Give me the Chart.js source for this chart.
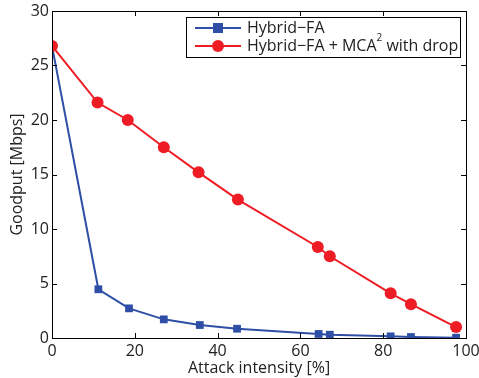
<!DOCTYPE html>
<html>
<head>
<meta charset="utf-8">
<script src="https://cdn.jsdelivr.net/npm/chart.js@4"></script>
<style>
  html, body { margin: 0; padding: 0; background: #fff; }
  #wrap { width: 479px; height: 378px; }
</style>
</head>
<body>
<div id="wrap"><canvas id="goodput-chart"></canvas></div>
<script>
// values
const hybridX = [0, 11.2, 18.6, 27.0, 35.7, 44.7, 64.4, 67.1, 81.8, 86.7, 97.6];
const hybridY = [26.8, 4.47, 2.72, 1.71, 1.19, 0.85, 0.37, 0.30, 0.15, 0.09, 0.03];
const mcaX = [0, 11.0, 18.3, 27.0, 35.4, 44.9, 64.2, 67.1, 81.8, 86.7, 97.6];
const mcaY = [26.8, 21.6, 20.0, 17.5, 15.2, 12.7, 8.35, 7.5, 4.1, 3.1, 1.0];
const xTicks = [0, 20, 40, 60, 80, 100];
const yTicks = [0, 5, 10, 15, 20, 25, 30];

const BLUE = '#2f4fa6';
const RED = '#ee1c25';
const FONT = '"Open Sans", "Liberation Sans", sans-serif';

const toPoints = (xs, ys) => xs.map((x, i) => ({ x: x, y: ys[i] }));

// box around the axes with inward ticks, MATLAB style
const framePlugin = {
    id: 'frame',
    afterDatasetsDraw(chart) {
        const { ctx, chartArea: a, scales } = chart;
        const len = 5;
        ctx.save();
        ctx.strokeStyle = '#000';
        ctx.lineWidth = 1;
        ctx.beginPath();
        xTicks.forEach(v => {
            const px = Math.round(scales.x.getPixelForValue(v)) + 0.5;
            ctx.moveTo(px, a.bottom); ctx.lineTo(px, a.bottom - len);
            ctx.moveTo(px, a.top); ctx.lineTo(px, a.top + len);
        });
        yTicks.forEach(v => {
            const py = Math.round(scales.y.getPixelForValue(v)) + 0.5;
            ctx.moveTo(a.left, py); ctx.lineTo(a.left + len, py);
            ctx.moveTo(a.right, py); ctx.lineTo(a.right - len, py);
        });
        ctx.stroke();
        ctx.strokeRect(Math.round(a.left) + 0.5, Math.round(a.top) + 0.5,
            Math.round(a.right - a.left), Math.round(a.bottom - a.top));
        ctx.restore();
    }
};

// legend box drawn by hand so the superscript 2 can be kept
const legendPlugin = {
    id: 'legendBox',
    afterDraw(chart) {
        const { ctx } = chart;
        const box = { x: 186.5, y: 17.5, w: 274, h: 40 };
        ctx.save();
        ctx.fillStyle = '#fff';
        ctx.fillRect(box.x, box.y, box.w, box.h);
        ctx.strokeStyle = '#000';
        ctx.lineWidth = 1;
        ctx.strokeRect(box.x, box.y, box.w, box.h);

        const rows = [
            { color: BLUE, marker: 'square', y: 28 },
            { color: RED, marker: 'circle', y: 46 }
        ];
        rows.forEach(r => {
            ctx.strokeStyle = r.color;
            ctx.lineWidth = 2;
            ctx.beginPath();
            ctx.moveTo(195, r.y); ctx.lineTo(241, r.y);
            ctx.stroke();
            ctx.fillStyle = r.color;
            if (r.marker === 'square') {
                ctx.fillRect(218 - 5, r.y - 5, 10, 10);
            } else {
                ctx.beginPath();
                ctx.arc(218, r.y, 6, 0, Math.PI * 2);
                ctx.fill();
            }
        });

        ctx.fillStyle = '#222';
        ctx.textBaseline = 'middle';
        ctx.font = '16px ' + FONT;
        ctx.fillText('Hybrid\u2212FA', 247, 28);
        const first = 'Hybrid\u2212FA + MCA';
        ctx.fillText(first, 247, 46);
        let x = 247 + ctx.measureText(first).width;
        ctx.font = '10px ' + FONT;
        ctx.fillText('2', x, 38);
        x += ctx.measureText('2').width;
        ctx.font = '16px ' + FONT;
        ctx.fillText(' with drop', x, 46);
        ctx.restore();
    }
};

const ctx = document.getElementById('goodput-chart');
new Chart(ctx, {
    type: 'line',
    data: {
        datasets: [{
            label: 'Hybrid\u2212FA + MCA\u00b2 with drop',
            data: toPoints(mcaX, mcaY),
            borderColor: RED,
            backgroundColor: RED,
            borderWidth: 2,
            pointStyle: 'circle',
            pointRadius: 6,
            pointBorderWidth: 0,
            order: 0
        }, {
            label: 'Hybrid\u2212FA',
            data: toPoints(hybridX, hybridY),
            borderColor: BLUE,
            backgroundColor: BLUE,
            borderWidth: 2,
            pointStyle: 'rect',
            pointRadius: 5.5,
            pointBorderWidth: 0,
            order: 1
        }]
    },
    options: {
        responsive: true,
        maintainAspectRatio: false,
        animation: false,
        devicePixelRatio: 1,
        layout: { padding: { top: 11, right: 13, left: 0, bottom: 0 } },
        plugins: {
            legend: { display: false },
            tooltip: { enabled: false }
        },
        scales: {
            x: {
                type: 'linear',
                min: 0,
                max: 100,
                afterBuildTicks: s => { s.ticks = xTicks.map(v => ({ value: v })); },
                afterFit: s => { s.height = 40; s.paddingLeft = 0; s.paddingRight = 0; },
                grid: { display: false, drawTicks: false },
                border: { display: false },
                ticks: {
                    color: '#222',
                    padding: 4,
                    maxRotation: 0,
                    font: { family: FONT, size: 16 }
                },
                title: {
                    display: true,
                    text: 'Attack intensity [%]',
                    color: '#222',
                    padding: { top: 0, bottom: 0 },
                    font: { family: FONT, size: 16 }
                }
            },
            y: {
                min: 0,
                max: 30,
                afterBuildTicks: s => { s.ticks = yTicks.map(v => ({ value: v })); },
                afterFit: s => { s.width = 52; s.paddingTop = 0; s.paddingBottom = 0; },
                grid: { display: false, drawTicks: false },
                border: { display: false },
                ticks: {
                    color: '#222',
                    padding: 3,
                    font: { family: FONT, size: 16 }
                },
                title: {
                    display: true,
                    text: 'Goodput [Mbps]',
                    color: '#222',
                    padding: { top: 8, bottom: 2 },
                    font: { family: FONT, size: 16 }
                }
            }
        }
    },
    plugins: [framePlugin, legendPlugin]
});
</script>
</body>
</html>
